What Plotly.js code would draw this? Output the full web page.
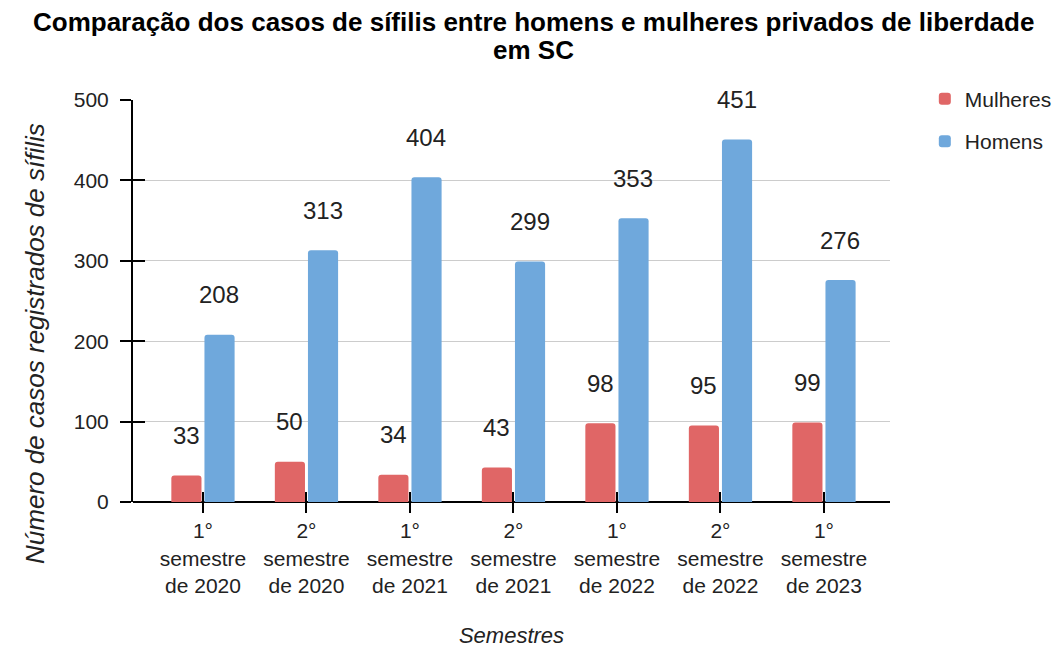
<!DOCTYPE html>
<html>
<head>
<meta charset="utf-8">
<script src="https://cdn.plot.ly/plotly-3.0.1.min.js"></script>
<style>html,body{margin:0;padding:0;background:#fff;}#chart{width:1057px;height:648px;}</style>
</head>
<body>
<div id="chart"></div>
<script>
const titleLines = ["Comparação dos casos de sífilis entre homens e mulheres privados de liberdade", "em SC"];
const yTitle = "Número de casos registrados de sífilis";
const xTitle = "Semestres";
const categories = [
  "1°<br>semestre<br>de 2020",
  "2°<br>semestre<br>de 2020",
  "1°<br>semestre<br>de 2021",
  "2°<br>semestre<br>de 2021",
  "1°<br>semestre<br>de 2022",
  "2°<br>semestre<br>de 2022",
  "1°<br>semestre<br>de 2023"
];
const mulheres = [33, 50, 34, 43, 98, 95, 99];
const homens = [208, 313, 404, 299, 353, 451, 276];
const seriesNames = ["Mulheres", "Homens"];
const yTicks = [0, 100, 200, 300, 400, 500];

const FONT = "Liberation Sans, Arial, sans-serif";
const RED = "#e06666", BLUE = "#6fa8dc";

const traces = [
  {type: "bar", name: seriesNames[0], x: categories, y: mulheres, marker: {color: RED}, legendgroup: "a", hoverinfo: "x+y"},
  {type: "bar", name: seriesNames[1], x: categories, y: homens, marker: {color: BLUE}, legendgroup: "b", hoverinfo: "x+y"},
  {type: "scatter", x: categories, y: mulheres, xaxis: "x2", yaxis: "y2", mode: "none", showlegend: false, hoverinfo: "skip"}
];

const annotations = [];
categories.forEach((c, i) => {
  annotations.push({x: c, y: mulheres[i], xref: "x", yref: "y", text: String(mulheres[i]), showarrow: false,
    xshift: -16.5, yshift: 40, font: {family: FONT, size: 24, color: "#222"}});
  annotations.push({x: c, y: homens[i], xref: "x", yref: "y", text: String(homens[i]), showarrow: false,
    xshift: 16.5, yshift: 40, font: {family: FONT, size: 24, color: "#222"}});
});
const titleY = [1.194, 1.125];
titleLines.forEach((t, i) => {
  annotations.push({x: 0.529, y: titleY[i], xref: "paper", yref: "paper", xanchor: "center", yanchor: "middle",
    text: "<b>" + t + "</b>", showarrow: false, font: {family: FONT, size: 26, color: "#000"}});
});
annotations.push({x: -0.1295, y: 0.3955, xref: "paper", yref: "paper", xanchor: "center", yanchor: "middle",
  textangle: -90, text: "<i>" + yTitle + "</i>", showarrow: false, font: {family: FONT, size: 26, color: "#222"}});

const xr = [-0.676, 6.638];
const layout = {
  width: 1057, height: 648,
  margin: {l: 133, r: 167, t: 100, b: 146, autoexpand: false},
  paper_bgcolor: "#fff", plot_bgcolor: "#fff",
  font: {family: FONT, size: 21, color: "#222"},
  barmode: "group", bargap: 0.36, bargroupgap: 0.09, barcornerradius: 3,
  xaxis: {type: "category", range: xr, showgrid: false, showline: false, zeroline: false, automargin: false,
    ticks: "outside", ticklen: 10, tickwidth: 2, tickcolor: "#000",
    tickfont: {family: FONT, size: 21, color: "#222"},
    title: {text: "<i>" + xTitle + "</i>", font: {family: FONT, size: 22, color: "#222"}, standoff: 32}},
  yaxis: {range: [0, 500], tickvals: yTicks, showgrid: true, gridcolor: "#cccccc", gridwidth: 1, automargin: false,
    zeroline: true, zerolinecolor: "#000", zerolinewidth: 2,
    showline: true, linecolor: "#000", linewidth: 2,
    ticks: "outside", ticklen: 11, tickwidth: 2, tickcolor: "#000", ticklabelstandoff: 7,
    tickfont: {family: FONT, size: 21, color: "#222"}},
  xaxis2: {type: "category", overlaying: "x", range: xr, showgrid: false, zeroline: false, showline: false, automargin: false,
    ticks: "inside", ticklen: 10, tickwidth: 2, tickcolor: "#000", showticklabels: false, side: "bottom", anchor: "y2"},
  yaxis2: {overlaying: "y", range: [0, 500], tickvals: yTicks, showgrid: false, zeroline: false, showline: false, automargin: false,
    ticks: "inside", ticklen: 12, tickwidth: 2, tickcolor: "#000", showticklabels: false, side: "left", anchor: "x2"},
  legend: {x: 1.046, y: 1.053, xanchor: "left", yanchor: "top", font: {family: FONT, size: 21, color: "#222"},
    traceorder: "grouped", tracegroupgap: 12, bgcolor: "rgba(0,0,0,0)"},
  annotations: annotations,
  showlegend: true
};

Plotly.newPlot("chart", traces, layout, {displayModeBar: false, staticPlot: true});
</script>
</body>
</html>
